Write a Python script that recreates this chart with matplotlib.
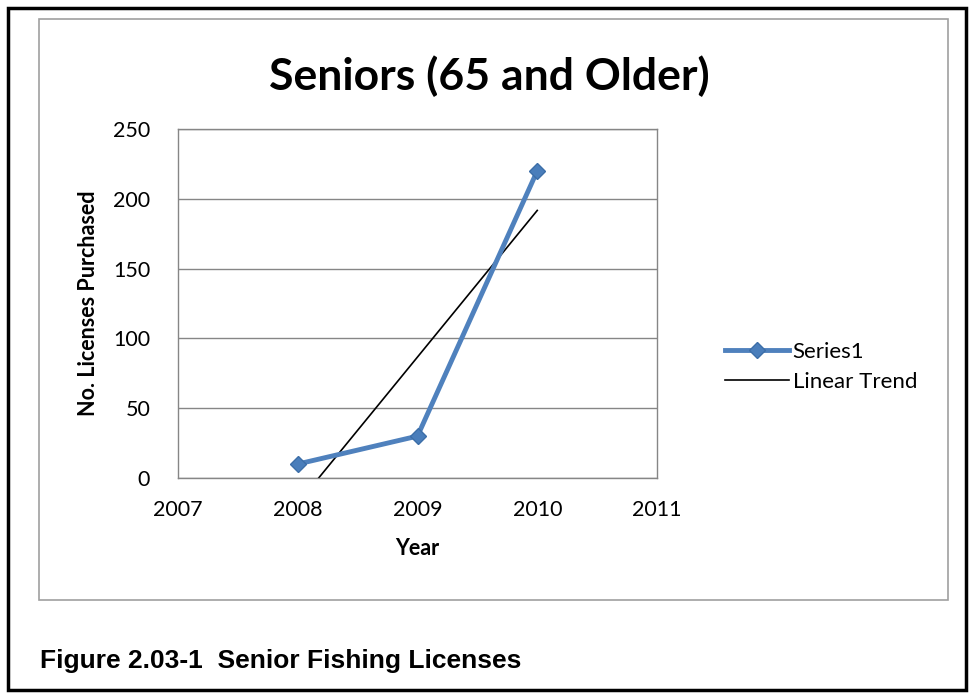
import matplotlib
matplotlib.use("Agg")
import matplotlib.pyplot as plt
from matplotlib.patches import Rectangle
import numpy as np

years = [2008, 2009, 2010]
licenses = [10, 30, 220]
x_ticks = [2007, 2008, 2009, 2010, 2011]
y_ticks = [0, 50, 100, 150, 200, 250]

W, H = 974, 698
fig = plt.figure(figsize=(W / 100, H / 100), dpi=100)

def fx(px): return px / W
def fy(py): return 1 - py / H

# outer black frame
fig.patches.append(Rectangle((fx(8), fy(690)), fx(958), (690 - 8) / H, transform=fig.transFigure,
                             fill=False, edgecolor="black", linewidth=2.5))
# chart area frame
fig.patches.append(Rectangle((fx(39), fy(600)), fx(909), (600 - 19) / H, transform=fig.transFigure,
                             fill=False, edgecolor="#a0a0a0", linewidth=1.2))

ax = fig.add_axes([fx(178), fy(478), fx(657 - 178), (478 - 129) / H])
font = "Lato"

ax.set_xlim(2007, 2011)
ax.set_ylim(0, 250)
ax.set_yticks(y_ticks)
ax.set_xticks(x_ticks)
ax.grid(axis="y", color="#868686", linewidth=1.0)
ax.set_axisbelow(True)
for s in ax.spines.values():
    s.set_color("#868686")
    s.set_linewidth(1.0)
ax.tick_params(axis="x", length=0, labelsize=15.5, pad=16)
ax.tick_params(axis="y", length=0, labelsize=15.5, pad=20)
for lab in ax.get_xticklabels() + ax.get_yticklabels():
    lab.set_fontfamily(font)

# trend line
coef = np.polyfit(years, licenses, 1)
tx = np.array([years[0], years[-1]])
ax.plot(tx, np.polyval(coef, tx), color="black", linewidth=1.2, label="Linear Trend", zorder=2)
ax.plot(years, licenses, color="#4F81BD", linewidth=3.5, marker="D", markersize=8,
        markerfacecolor="#4A7EBB", markeredgecolor="#3C6EA8", label="Series1", zorder=3)

handles, labels = ax.get_legend_handles_labels()
leg = fig.legend(handles[::-1], labels[::-1], loc="center left", bbox_to_anchor=(fx(705), fy(367)),
                 frameon=False, prop={"family": font, "size": 16}, handlelength=2.9,
                 handletextpad=0.15, labelspacing=0.45)

ax.set_xlabel("Year", fontfamily=font, fontweight="bold", fontsize=15.5, labelpad=13)
ax.set_ylabel("No. Licenses Purchased", fontfamily=font, fontweight="bold", fontsize=15.5, labelpad=10)

fig.text(fx(489), fy(76), "Seniors (65 and Older)", ha="center", va="center",
         fontfamily=font, fontweight="bold", fontsize=32)

fig.text(fx(40), fy(661), "Figure 2.03-1  Senior Fishing Licenses", ha="left", va="center",
         fontfamily=["Liberation Sans Narrow", "Liberation Sans"], fontweight="bold", fontsize=19)

fig.savefig("out.png", dpi=100)
